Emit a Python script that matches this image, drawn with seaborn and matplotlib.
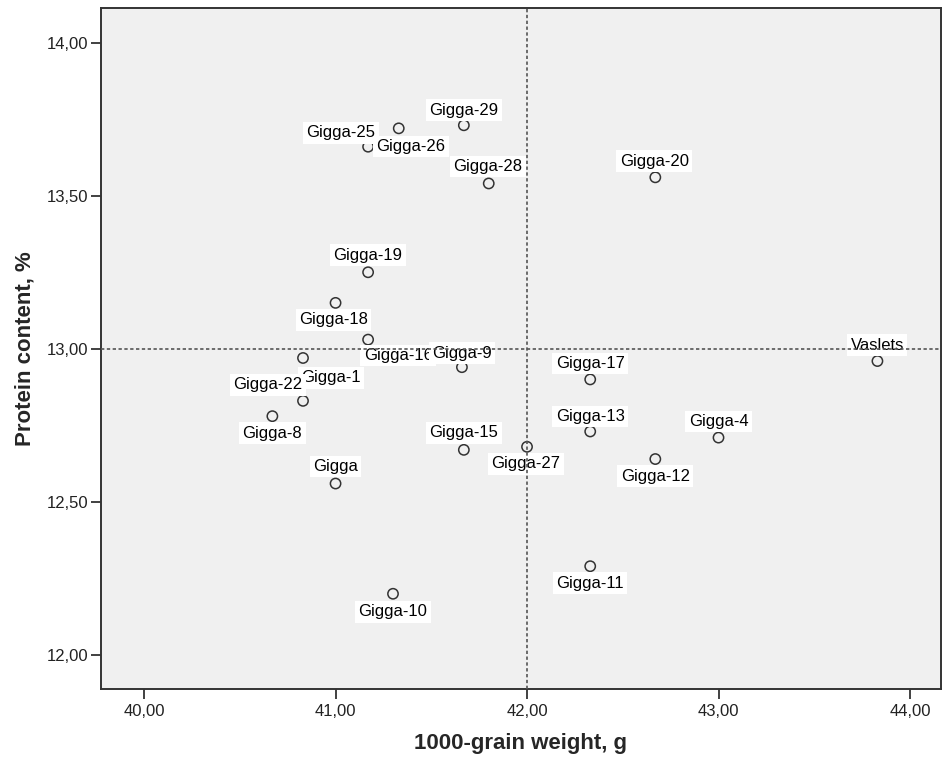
import matplotlib
matplotlib.use("Agg")
import matplotlib.pyplot as plt
import seaborn as sns
import pandas as pd
from matplotlib.ticker import FuncFormatter, MultipleLocator

# ====== data ======
names = ["Gigga-29", "Gigga-25", "Gigga-26", "Gigga-28", "Gigga-20", "Gigga-19",
         "Gigga-18", "Gigga-16", "Gigga-9", "Gigga-1", "Gigga-22", "Gigga-8",
         "Gigga", "Gigga-15", "Gigga-27", "Gigga-17", "Gigga-13", "Gigga-4",
         "Gigga-12", "Vaslets", "Gigga-10", "Gigga-11"]
grain_weight = [41.67, 41.17, 41.33, 41.80, 42.67, 41.17,
                41.00, 41.17, 41.66, 40.83, 40.83, 40.67,
                41.00, 41.67, 42.00, 42.33, 42.33, 43.00,
                42.67, 43.83, 41.30, 42.33]
protein = [13.73, 13.66, 13.72, 13.54, 13.56, 13.25,
           13.15, 13.03, 12.94, 12.97, 12.83, 12.78,
           12.56, 12.67, 12.68, 12.90, 12.73, 12.71,
           12.64, 12.96, 12.20, 12.29]

# label offsets in pixels (dx right, dy up) so labels sit like in SPSS
label_offset = {
    "Gigga-29": (0, 15), "Gigga-25": (-27, 14), "Gigga-26": (12, -18),
    "Gigga-28": (-1, 17), "Gigga-20": (-1, 16), "Gigga-19": (0, 17),
    "Gigga-18": (-2, -17), "Gigga-16": (30, -16), "Gigga-9": (0, 14),
    "Gigga-1": (28, -20), "Gigga-22": (-35, 16), "Gigga-8": (0, -17),
    "Gigga": (0, 17), "Gigga-15": (0, 17), "Gigga-27": (-1, -17),
    "Gigga-17": (0, 16), "Gigga-13": (0, 15), "Gigga-4": (0, 16),
    "Gigga-12": (0, -17), "Vaslets": (0, 16), "Gigga-10": (0, -18),
    "Gigga-11": (0, -17),
}

df = pd.DataFrame({"name": names, "weight": grain_weight, "protein": protein})

sns.set_style("ticks", {"axes.facecolor": "#f0f0f0", "axes.edgecolor": "#333333"})
plt.rcParams["font.family"] = ["Liberation Sans", "DejaVu Sans"]

fig = plt.figure(figsize=(9.42, 7.62), dpi=100)
ax = fig.add_axes([101 / 942, 1 - 689 / 762, 840 / 942, 681 / 762])

sns.scatterplot(data=df, x="weight", y="protein", ax=ax, s=55,
                facecolor="none", edgecolor="#333333", linewidth=1.1,
                zorder=2, legend=False)

for n, xv, yv in zip(names, grain_weight, protein):
    dx, dy = label_offset[n]
    ax.annotate(n, (xv, yv), xytext=(dx, dy), textcoords="offset pixels",
                ha="center", va="center", fontsize=12, color="black", zorder=3,
                bbox=dict(boxstyle="square,pad=0.2", fc="white", ec="none"))

# reference lines
ax.axvline(42, color="#555555", lw=1.2, ls=(0, (2, 1.5)), zorder=4)
ax.axhline(13, color="#555555", lw=1.2, ls=(0, (2, 1.5)), zorder=4)

ax.set_xlim(39.775, 44.162)
ax.set_ylim(11.889, 14.113)
ax.xaxis.set_major_locator(MultipleLocator(1))
ax.yaxis.set_major_locator(MultipleLocator(0.5))
fmt = FuncFormatter(lambda v, p: f"{v:.2f}".replace(".", ","))
ax.xaxis.set_major_formatter(fmt)
ax.yaxis.set_major_formatter(fmt)
ax.tick_params(axis="both", length=7, width=1.3, color="#333333",
               labelsize=12, labelcolor="#222222")
ax.tick_params(axis="y", pad=2)
ax.tick_params(axis="x", pad=4)
for sp in ax.spines.values():
    sp.set_linewidth(1.4)
    sp.set_color("#333333")

ax.set_xlabel("1000-grain weight, g", fontsize=16, fontweight="bold", labelpad=10)
ax.set_ylabel("Protein content, %", fontsize=16, fontweight="bold", labelpad=8)

fig.savefig("out.png", dpi=100)
